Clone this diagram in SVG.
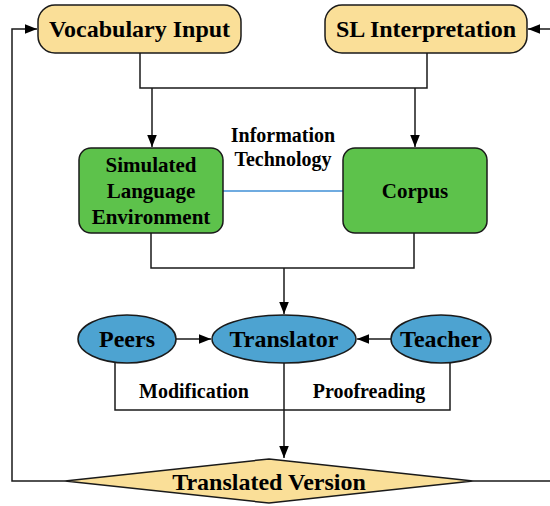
<svg xmlns="http://www.w3.org/2000/svg" width="550" height="506" viewBox="0 0 550 506">
  <style>
    .txt { font-family: "Liberation Serif", "Times New Roman", serif; font-weight: bold; fill: #000; text-anchor: middle; }
    .big { font-size: 24px; }
    .mid { font-size: 21px; }
    .sm { font-size: 20px; }
    .yel { fill: #FADF98; stroke: #1a1a1a; stroke-width: 1.5; }
    .grn { fill: #5DC24B; stroke: #1a1a1a; stroke-width: 1.5; }
    .blu { fill: #4DA3D1; stroke: #1a1a1a; stroke-width: 1.5; }
    .wire { fill: none; stroke: #1a1a1a; stroke-width: 1.5; }
  </style>
  <defs>
    <marker id="arrowL" viewBox="0 0 10 10" refX="10" refY="5" markerWidth="12" markerHeight="12" markerUnits="userSpaceOnUse" orient="auto">
      <path d="M0,1 L10,5 L0,9 z" fill="#000"/>
    </marker>
  </defs>

  <g id="connectors">
    <!-- top boxes merge and split to the green boxes -->
    <polyline class="wire" points="140,53 140,88 427,88 427,53"/>
    <line class="wire" x1="152" y1="88" x2="152" y2="147" marker-end="url(#arrowL)"/>
    <line class="wire" x1="415" y1="88" x2="415" y2="147" marker-end="url(#arrowL)"/>
    <!-- information technology link -->
    <line x1="223" y1="191" x2="343" y2="191" stroke="#3F8FD6" stroke-width="1.5"/>
    <!-- green boxes to translator -->
    <polyline class="wire" points="151,233 151,268 414,268 414,233"/>
    <line class="wire" x1="284" y1="268" x2="284" y2="314" marker-end="url(#arrowL)"/>
    <!-- peers and teacher to translator -->
    <line class="wire" x1="176" y1="339" x2="211" y2="339" marker-end="url(#arrowL)"/>
    <line class="wire" x1="391" y1="339" x2="357" y2="339" marker-end="url(#arrowL)"/>
    <!-- feedback to the translated version -->
    <polyline class="wire" points="115,363 115,410 450,410 450,363"/>
    <line class="wire" x1="284" y1="363" x2="284" y2="458" marker-end="url(#arrowL)"/>
    <!-- loops back to the inputs -->
    <polyline class="wire" points="65,481 12,481 12,29 37,29" marker-end="url(#arrowL)"/>
    <polyline class="wire" points="473,481 551,481 551,29 528,29" marker-end="url(#arrowL)"/>
  </g>

  <g id="vocabulary-input">
    <rect class="yel" x="38" y="5" width="203" height="48" rx="17"/>
    <text class="txt big" x="139.5" y="37">Vocabulary Input</text>
  </g>

  <g id="sl-interpretation">
    <rect class="yel" x="325" y="5" width="202" height="48" rx="17"/>
    <text class="txt big" x="426" y="37">SL Interpretation</text>
  </g>

  <g id="information-technology">
    <text class="txt sm" x="283" y="142">Information</text>
    <text class="txt sm" x="283" y="166">Technology</text>
  </g>

  <g id="simulated-language-environment">
    <rect class="grn" x="79" y="148" width="144" height="85" rx="12"/>
    <text class="txt mid" x="151" y="172">Simulated</text>
    <text class="txt mid" x="151" y="198">Language</text>
    <text class="txt mid" x="151" y="224">Environment</text>
  </g>

  <g id="corpus">
    <rect class="grn" x="343" y="148" width="144" height="85" rx="12"/>
    <text class="txt mid" x="415" y="198">Corpus</text>
  </g>

  <g id="peers">
    <ellipse class="blu" cx="127" cy="339" rx="49" ry="24"/>
    <text class="txt big" x="127" y="347">Peers</text>
  </g>

  <g id="translator">
    <ellipse class="blu" cx="284" cy="339" rx="72" ry="24"/>
    <text class="txt big" x="284" y="347">Translator</text>
  </g>

  <g id="teacher">
    <ellipse class="blu" cx="441" cy="339" rx="50" ry="24"/>
    <text class="txt big" x="441" y="347">Teacher</text>
  </g>

  <g id="labels">
    <text class="txt sm" x="194" y="398">Modification</text>
    <text class="txt sm" x="369" y="398">Proofreading</text>
  </g>

  <g id="translated-version">
    <polygon class="yel" points="269,459 473,481 269,503 65,481"/>
    <text class="txt big" x="269" y="490">Translated Version</text>
  </g>
</svg>
